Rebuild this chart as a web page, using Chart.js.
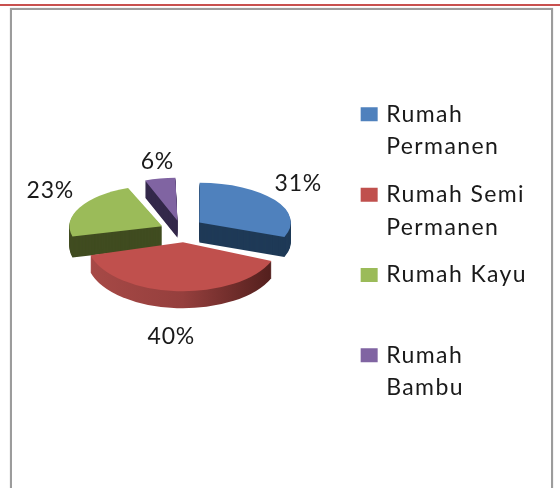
<!DOCTYPE html>
<html>
<head>
<meta charset="utf-8">
<style>
  body { margin: 0; background: #fff; }
  #line { position: absolute; left: 0; top: 4px; width: 560px; height: 2px; background: #c8504f; }
  #frame { position: absolute; left: 10px; top: 8px; width: 539px; height: 500px; border: 2px solid #9c9c9c; box-shadow: 0 0 1px #bbb; }
  #wrap { position: absolute; left: 0; top: 0; width: 560px; height: 488px; overflow: hidden; }
  canvas { position: absolute; left: 0; top: 0; }
</style>
</head>
<body>
<div id="wrap">
  <div id="line"></div>
  <div id="frame"></div>
  <canvas id="chart01" width="560" height="488"></canvas>
</div>
<script src="https://cdn.jsdelivr.net/npm/chart.js@4"></script>
<script>
// 3D風の切り離し円グラフ
var categories = [['Rumah', 'Permanen'], ['Rumah Semi', 'Permanen'], ['Rumah Kayu', ''], ['Rumah', 'Bambu']];
var values = [31, 40, 23, 6];
var colors = ['#4f81bd', '#c0504d', '#9bbb59', '#8064a2'];

// 立体の見え方（スライスごと）
var sideColors = ['#1f3a57', null, '#404c20', '#33284a'];
var tilt = [0.475, 0.54, 0.5, 0.45];
var widen = [1.095, 1.057, 1.128, 0.98];
var drift = [-1, 3, 2, 0];
var lift = [-28, -25, -25, -26];
var depth = [20, 17, 21, 17];
var drawOrder = [2, 3, 0, 1];
var labelShift = [[117, -72], [-10, 81], [-131, -65], [-24, -94]];

function placeSlice(ctx, arc, i) {
  ctx.translate(arc.x + drift[i], arc.y + lift[i]);
  ctx.scale(widen[i], tilt[i]);
  ctx.translate(-arc.x, -arc.y);
}

var pie3d = {
  id: 'pie3d',
  beforeLayout: function (chart) {
    chart.ctx.letterSpacing = '1.4px';
  },
  beforeDraw: function (chart) {
    chart.ctx.letterSpacing = '1.4px';
  },
  beforeDatasetsDraw: function (chart) {
    var ctx = chart.ctx;
    var arcs = chart.getDatasetMeta(0).data;
    drawOrder.forEach(function (i) {
      var arc = arcs[i];
      var top = arc.options;
      var fill = sideColors[i];
      if (!fill) {
        // 赤の側面だけ横グラデーション
        fill = ctx.createLinearGradient(arc.x - 95, 0, arc.x + 95, 0);
        fill.addColorStop(0, '#a84a47');
        fill.addColorStop(0.5, '#953f3d');
        fill.addColorStop(1, '#4a1b19');
      }
      arc.options = Object.assign({}, top, { backgroundColor: fill });
      for (var d = depth[i]; d > 0; d--) {
        ctx.save();
        ctx.translate(0, d);
        placeSlice(ctx, arc, i);
        arc.draw(ctx);
        ctx.restore();
      }
      arc.options = top;
      ctx.save();
      placeSlice(ctx, arc, i);
      arc.draw(ctx);
      ctx.restore();
    });
    return false;
  },
  afterDraw: function (chart) {
    var ctx = chart.ctx;
    var arcs = chart.getDatasetMeta(0).data;
    ctx.save();
    ctx.font = '23px Lato';
    ctx.letterSpacing = '0.8px';
    ctx.fillStyle = '#1a1a1a';
    ctx.textAlign = 'center';
    ctx.textBaseline = 'middle';
    values.forEach(function (v, i) {
      ctx.fillText(v + '%', arcs[i].x + labelShift[i][0], arcs[i].y + labelShift[i][1]);
    });
    ctx.restore();
  }
};

new Chart(document.getElementById('chart01'), {
  type: 'pie',
  data: {
    labels: categories,
    datasets: [{ data: values, backgroundColor: colors, borderWidth: 0, offset: 84 }]
  },
  options: {
    responsive: false,
    animation: false,
    radius: 82,
    layout: { padding: { top: 24, right: 23, left: 14 } },
    plugins: {
      tooltip: { enabled: false },
      legend: {
        position: 'right',
        labels: {
          boxWidth: 11,
          boxHeight: 8,
          padding: 15,
          color: '#1a1a1a',
          font: { family: 'Lato', size: 23, lineHeight: 1.42 },
          // 太い枠で凡例の四角を広げ、文字との間を詰める
          generateLabels: function (chart) {
            return Chart.overrides.pie.plugins.legend.labels.generateLabels(chart).map(function (item) {
              item.strokeStyle = item.fillStyle;
              item.lineWidth = 6;
              return item;
            });
          }
        }
      }
    }
  },
  plugins: [pie3d]
});
</script>
</body>
</html>
